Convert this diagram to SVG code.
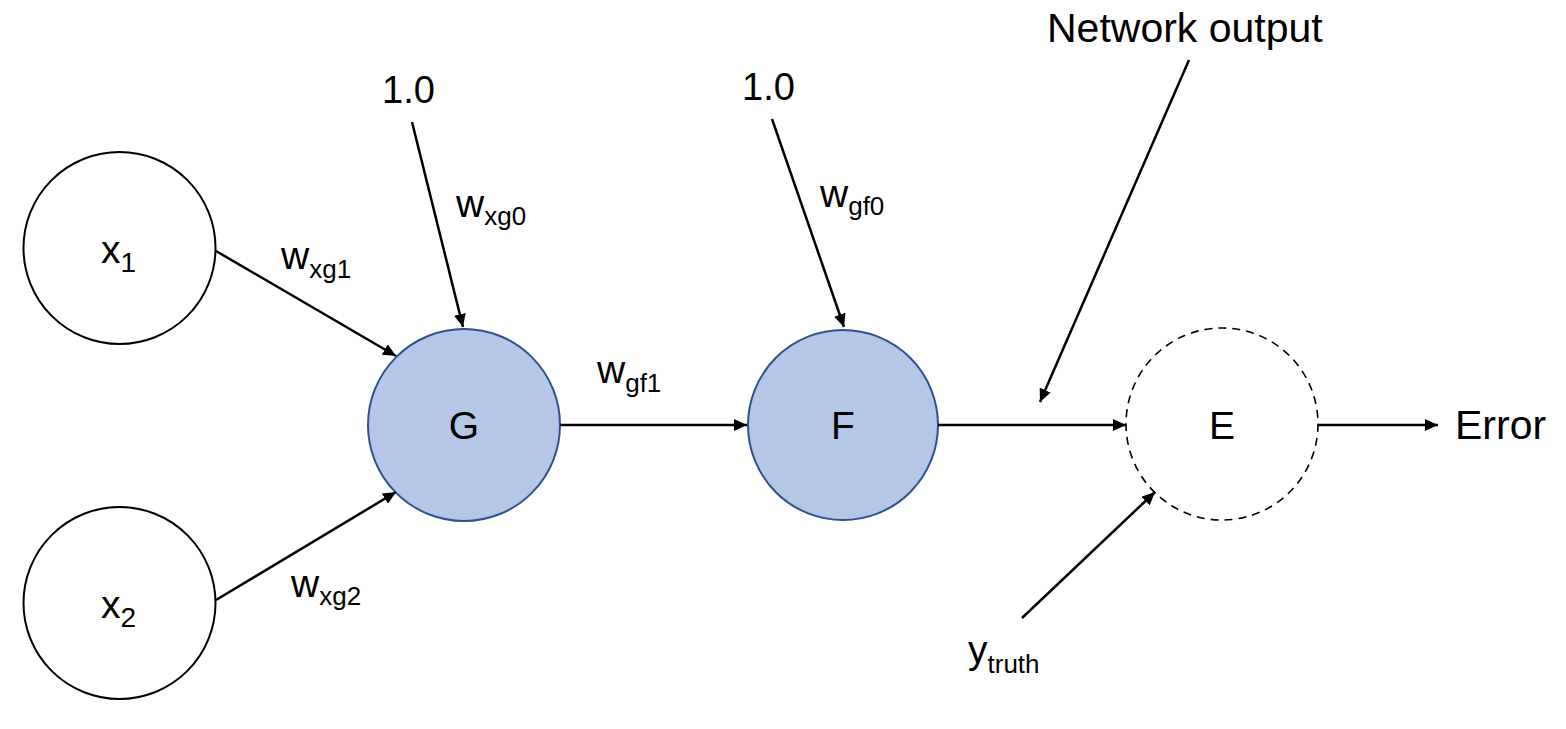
<svg xmlns="http://www.w3.org/2000/svg" width="1566" height="729" viewBox="0 0 1566 729">
<style>
text{font-family:"Liberation Sans",Arial,sans-serif;fill:#000}
.big{font-size:38px}
.huge{font-size:41px}
.lbl{font-size:39px}
.sub{font-size:26px}
.nsub{font-size:28px}
.plain{fill:#fff;stroke:#000;stroke-width:2}
.hid{fill:#b4c7e7;stroke:#2f528f;stroke-width:2}
.dash{fill:#fff;stroke:#000;stroke-width:1.6;stroke-dasharray:8 6}
.conn line{stroke:#000;stroke-width:2.5;marker-end:url(#ah)}
</style>
<defs>
<marker id="ah" markerUnits="userSpaceOnUse" markerWidth="14" markerHeight="12" refX="13" refY="6" orient="auto">
<path d="M0,0 L13,6 L0,12 z" fill="#000"/>
</marker>
</defs>
<rect width="1566" height="729" fill="#fff"/>
<g id="node-x1"><circle class="plain" cx="119.5" cy="248" r="96"/><text class="lbl" x="101" y="263">x<tspan class="nsub" dy="9">1</tspan></text></g>
<g id="node-x2"><circle class="plain" cx="119.5" cy="603" r="96"/><text class="lbl" x="101" y="618">x<tspan class="nsub" dy="9">2</tspan></text></g>
<g id="node-G"><circle class="hid" cx="464" cy="425" r="96"/><text class="lbl" x="464" y="439" text-anchor="middle">G</text></g>
<g id="node-F"><circle class="hid" cx="843" cy="425" r="95"/><text class="lbl" x="843" y="439" text-anchor="middle">F</text></g>
<g id="node-E"><circle class="dash" cx="1222" cy="424" r="96"/><text class="lbl" x="1222" y="439" text-anchor="middle">E</text></g>
<g id="labels">
<text class="big" x="382" y="103">1.0</text>
<text class="big" x="742" y="100">1.0</text>
<text class="huge" x="1047" y="42">Network output</text>
<text class="huge" x="1455" y="439">Error</text>
<text class="lbl" x="968" y="663">y<tspan class="sub" dy="10">truth</tspan></text>
<text class="lbl" x="281" y="269">w<tspan class="sub" dy="9">xg1</tspan></text>
<text class="lbl" x="291" y="597">w<tspan class="sub" dy="8">xg2</tspan></text>
<text class="lbl" x="456" y="217">w<tspan class="sub" dy="8">xg0</tspan></text>
<text class="lbl" x="820" y="207">w<tspan class="sub" dy="8">gf0</tspan></text>
<text class="lbl" x="597" y="383">w<tspan class="sub" dy="9">gf1</tspan></text>
</g>
<g id="connectors" class="conn">
<line x1="216" y1="251" x2="396" y2="356"/>
<line x1="216" y1="600" x2="396" y2="492"/>
<line x1="412" y1="122" x2="463" y2="327"/>
<line x1="772" y1="119" x2="844" y2="327"/>
<line x1="560" y1="425" x2="747" y2="425"/>
<line x1="938" y1="425" x2="1126" y2="425"/>
<line x1="1189" y1="60" x2="1040" y2="402"/>
<line x1="1022" y1="618" x2="1155" y2="492"/>
<line x1="1318" y1="425" x2="1438" y2="425"/>
</g>
</svg>
